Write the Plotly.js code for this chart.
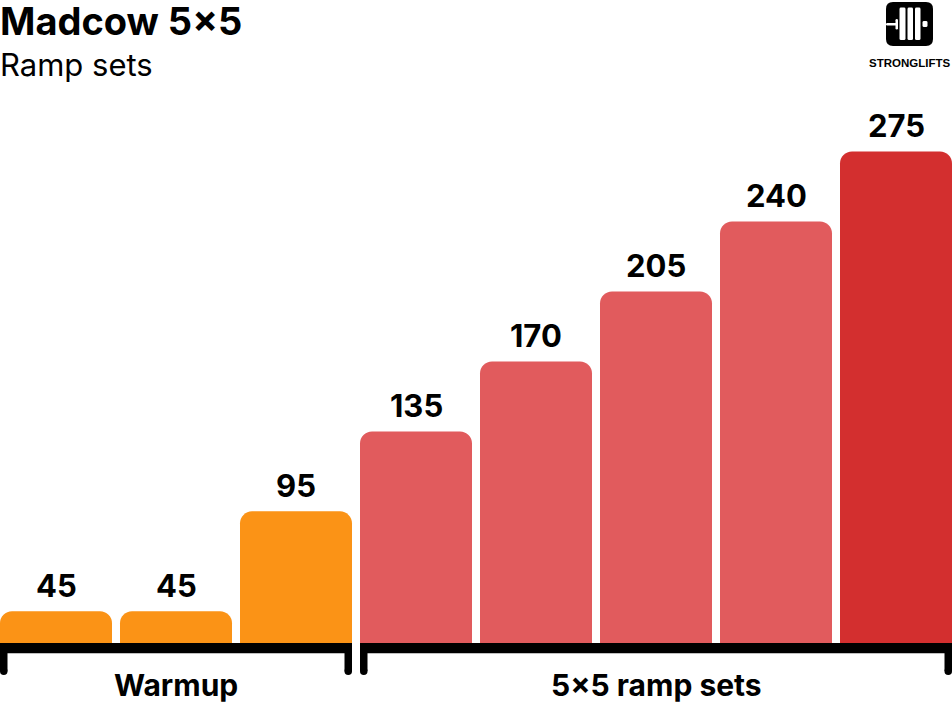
<!DOCTYPE html>
<html>
<head>
<meta charset="utf-8">
<script src="https://cdn.plot.ly/plotly-3.0.1.min.js"></script>
<style>
  html, body { margin: 0; padding: 0; background: #ffffff; }
  #chart { width: 952px; height: 704px; }
</style>
</head>
<body>
<div id="chart"></div>
<script>
// ---- data ----
const categories = ['Warmup 1', 'Warmup 2', 'Warmup 3', 'Set 1', 'Set 2', 'Set 3', 'Set 4', 'Set 5'];
const values = [45, 45, 95, 135, 170, 205, 240, 275];
const groupLabels = ['Warmup', '5×5 ramp sets'];
const groupStart = [0, 3];
const groupEnd = [2, 7];
const titleText = 'Madcow 5×5';
const subtitleText = 'Ramp sets';
const logoText = 'STRONGLIFTS';

// ---- styles ----
const W = 952, H = 704;
const ORANGE = '#FB9316', RED = '#E15B5D', DARK = '#D32F2F';
const FONT = 'Inter, "Open Sans", Roboto, sans-serif';
const plotTop = 100, plotBottom = 643.3;
const gapFrac = 8 / 120;
const half = 0.5 - gapFrac / 2;
const pxPerUnit = 2;
const yMin = 29.15;
const yMax = yMin + (plotBottom - plotTop) / pxPerUnit;

const colors = categories.map((c, i) => {
  if (i < groupStart[1]) return ORANGE;
  return i === categories.length - 1 ? DARK : RED;
});

// pixel -> paper helpers
const px = x => x / W;
const py = y => (plotBottom - y) / (plotBottom - plotTop);

const trace = {
  type: 'bar',
  x: categories,
  y: values,
  marker: { color: colors, cornerradius: 12, line: { width: 0 } },
  hoverinfo: 'x+y',
  cliponaxis: true
};

const annotations = [];
// value labels
values.forEach((v, i) => {
  annotations.push({
    x: categories[i], y: v, xref: 'x', yref: 'y',
    text: String(v), showarrow: false,
    xanchor: 'center', yanchor: 'middle', yshift: 26,
    font: { family: FONT, size: 31, weight: 700, color: '#000000' }
  });
});
// title/subtitle
annotations.push({
  x: 0, y: py(21), xref: 'paper', yref: 'paper', xanchor: 'left', yanchor: 'middle', xshift: -2,
  text: titleText, showarrow: false,
  font: { family: FONT, size: 38, weight: 700, color: '#000000' }
});
annotations.push({
  x: 0, y: py(64), xref: 'paper', yref: 'paper', xanchor: 'left', yanchor: 'middle', xshift: -2,
  text: subtitleText, showarrow: false,
  font: { family: FONT, size: 31, weight: 400, color: '#000000' }
});
// logo text
annotations.push({
  x: px(909), y: py(63), xref: 'paper', yref: 'paper', xanchor: 'center', yanchor: 'middle',
  text: logoText, showarrow: false,
  font: { family: '"Liberation Sans", Arial, sans-serif', size: 11.5, weight: 700, color: '#000000' }
});

const shapes = [];
// group brackets
groupLabels.forEach((lab, g) => {
  const x0 = groupStart[g] - half, x1 = groupEnd[g] + half;
  shapes.push({ type: 'rect', xref: 'x', yref: 'paper', x0: x0, x1: x1, y0: py(643.3), y1: py(653.5),
    fillcolor: '#000', line: { width: 0 }, layer: 'above' });
  [x0, x1].forEach((xe, k) => {
    shapes.push({ type: 'rect', xref: 'x', yref: 'paper', xsizemode: 'pixel', xanchor: xe,
      x0: k === 0 ? 0 : -7.5, x1: k === 0 ? 7.5 : 0, y0: py(645), y1: py(671.5),
      fillcolor: '#000', line: { width: 0 }, layer: 'above' });
    shapes.push({ type: 'circle', xref: 'x', yref: 'paper', xsizemode: 'pixel', xanchor: xe,
      x0: k === 0 ? 0 : -7.5, x1: k === 0 ? 7.5 : 0, y0: py(675.2), y1: py(667.7),
      fillcolor: '#000', line: { width: 0 }, layer: 'above' });
  });
  annotations.push({
    x: (x0 + x1) / 2, y: py(685), xref: 'x', yref: 'paper', xanchor: 'center', yanchor: 'middle',
    text: lab, showarrow: false,
    font: { family: FONT, size: 30, weight: 700, color: '#000000' }
  });
});

// logo box (rounded square)
function roundRect(x0, y0, x1, y1, r) {
  const P = (x, y) => px(x) + ',' + py(y);
  return 'M' + P(x0 + r, y0) + ' L' + P(x1 - r, y0) + ' Q' + P(x1, y0) + ' ' + P(x1, y0 + r) +
    ' L' + P(x1, y1 - r) + ' Q' + P(x1, y1) + ' ' + P(x1 - r, y1) +
    ' L' + P(x0 + r, y1) + ' Q' + P(x0, y1) + ' ' + P(x0, y1 - r) +
    ' L' + P(x0, y0 + r) + ' Q' + P(x0, y0) + ' ' + P(x0 + r, y0) + ' Z';
}
shapes.push({ type: 'path', xref: 'paper', yref: 'paper', path: roundRect(886, 2, 933, 46, 7),
  fillcolor: '#000', line: { width: 0 }, layer: 'above' });
const whiteRects = [
  [886, 23, 897, 25.5],
  [895.5, 19, 898, 29.5],
  [899.5, 7.5, 905.5, 40],
  [907.5, 7.5, 913, 40],
  [915, 7.5, 920.5, 40],
  [922.5, 21, 927.5, 27]
];
whiteRects.forEach(r => {
  shapes.push({ type: 'path', xref: 'paper', yref: 'paper',
    path: roundRect(r[0], r[1], r[2], r[3], Math.min(1.5, (r[2]-r[0])/2, (r[3]-r[1])/2)),
    fillcolor: '#fff', line: { width: 0 }, layer: 'above' });
});

const layout = {
  width: W, height: H,
  margin: { l: 0, r: 0, t: plotTop, b: H - plotBottom, pad: 0 },
  paper_bgcolor: '#ffffff', plot_bgcolor: '#ffffff',
  showlegend: false,
  bargap: gapFrac,
  xaxis: { type: 'category', range: [-half, categories.length - 1 + half], showticklabels: false,
    showgrid: false, zeroline: false, showline: false, ticks: '', fixedrange: true },
  yaxis: { range: [yMin, yMax], showticklabels: false, showgrid: false, zeroline: false,
    showline: false, ticks: '', fixedrange: true },
  annotations: annotations,
  shapes: shapes
};

Plotly.newPlot('chart', [trace], layout, { displayModeBar: false, staticPlot: true });
</script>
</body>
</html>
